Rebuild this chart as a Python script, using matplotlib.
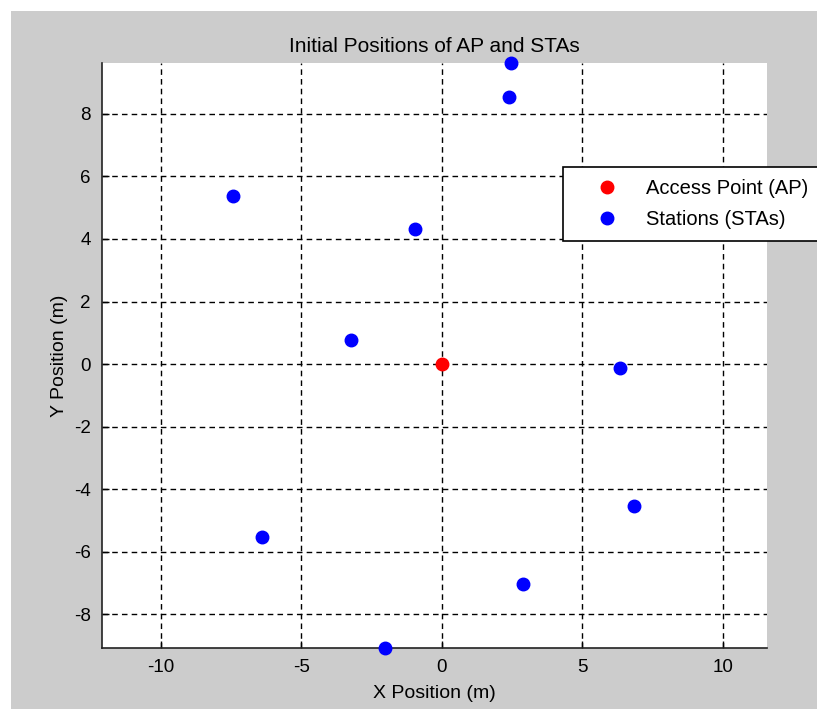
import numpy as np
import matplotlib
matplotlib.use("Agg")
import matplotlib.pyplot as plt
from matplotlib.patches import Rectangle

# positions (metres)
ap_x = [0.0]
ap_y = [0.0]
sta_x = [2.46, 2.40, -7.43, -0.96, -3.22, 6.33, 6.83, -6.40, 2.88, -2.03]
sta_y = [9.63, 8.52, 5.37, 4.31, 0.77, -0.14, -4.54, -5.52, -7.01, -9.08]

x_ticks = [-10, -5, 0, 5, 10]
y_ticks = [-8, -6, -4, -2, 0, 2, 4, 6, 8]

plt.rcParams['font.family'] = ['Liberation Sans', 'DejaVu Sans']
plt.rcParams['axes.unicode_minus'] = False

W, H = 817, 709
fig = plt.figure(figsize=(W / 100, H / 100), dpi=100, facecolor='white')
# grey window area (screenshot has a thin white strip top and left)
fig.patches.append(Rectangle((11 / W, 0), 1, 1 - 11 / H, transform=fig.transFigure,
                             facecolor='#cccccc', edgecolor='none', zorder=-10))

ax = fig.add_axes([102 / W, 1 - 648.3 / H, (766.7 - 102) / W, (648.3 - 62.7) / H])
ax.set_facecolor('white')

ax.plot(ap_x, ap_y, 'o', color=(1, 0, 0), markersize=9, clip_on=False,
        label='Access Point (AP)', zorder=3)
ax.plot(sta_x, sta_y, 'o', color=(0, 0, 1), markersize=9, clip_on=False,
        label='Stations (STAs)', zorder=3)

ax.set_xlim(-12.1, 11.57)
ax.set_ylim(-9.08, 9.63)
ax.set_xticks(x_ticks)
ax.set_yticks(y_ticks)
ax.tick_params(direction='in', length=5, width=1, labelsize=13.5, colors='black', pad=8)
ax.grid(True, color='black', linestyle=(0, (4, 3)), linewidth=1)

for s in ['top', 'right']:
    ax.spines[s].set_visible(False)
for s in ['left', 'bottom']:
    ax.spines[s].set_linewidth(1.2)
    ax.spines[s].set_color('#222222')

ax.set_title('Initial Positions of AP and STAs', fontsize=15, pad=8)
ax.set_xlabel('X Position (m)', fontsize=14, labelpad=6)
ax.set_ylabel('Y Position (m)', fontsize=14, labelpad=4)

leg = ax.legend(loc='upper left', bbox_to_anchor=(563 / W, 1 - 167 / H, (818 - 563) / W, 0.0),
                bbox_transform=fig.transFigure, mode='expand', fontsize=14.5,
                frameon=True, fancybox=False, framealpha=1, edgecolor='black',
                borderaxespad=0, borderpad=0.6, labelspacing=0.6,
                handlelength=3.2, handletextpad=0.3, markerscale=1.0)
leg.get_frame().set_linewidth(1.2)

fig.savefig('out.png', dpi=100, facecolor=fig.get_facecolor())
